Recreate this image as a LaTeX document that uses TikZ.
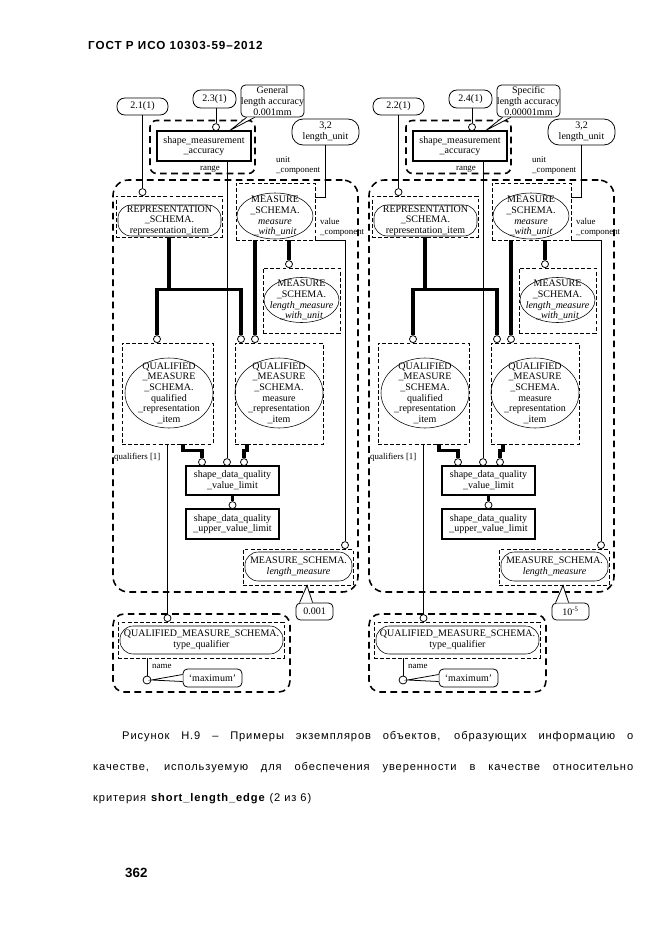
\documentclass[tikz,border=0pt]{standalone}
\usepackage{fontspec}
\setmainfont{Liberation Serif}
\newfontfamily\arialf{Liberation Sans}
\usetikzlibrary{calc,shapes.geometric}

\begin{document}
\begin{tikzpicture}[
    x=0.9pt, y=-0.9pt,
    font=\fontsize{9}{9.6}\selectfont,
    sz/.style 2 args={minimum width=#1*0.9pt, minimum height=#2*0.9pt},
    refbox/.style={draw, rounded corners=7pt, inner sep=0pt, line width=0.7pt, align=center},
    note/.style={draw, rounded corners=4pt, inner sep=0pt, line width=0.7pt, align=center},
    sbox/.style={draw, line width=1.2pt, inner sep=0pt, align=center},
    dbox/.style={draw, dash pattern=on 3.5pt off 2pt, line width=0.8pt, inner sep=0pt},
    outer/.style={draw, dash pattern=on 6pt off 4pt, line width=1.4pt, inner sep=0pt, rounded corners=14pt},
    ent/.style={draw, ellipse, line width=0.5pt, inner sep=0pt},
    stad/.style={draw, rounded corners=12pt, line width=0.5pt, inner sep=0pt, align=center},
    txt/.style={inner sep=0pt, align=center},
    oc/.style={circle, draw, fill=white, inner sep=0pt, minimum size=6.3pt, line width=0.7pt},
    rel/.style={line width=0.7pt},
    sub/.style={line width=3.2pt},
    lbl/.style={font=\fontsize{8}{9}\selectfont, inner sep=0pt, align=left},
    captxt/.style={font=\arialf\fontsize{10}{12}\selectfont\addfontfeature{LetterSpace=8}, inner sep=0pt},
    capj/.style={text width=#1, align=justify, execute at begin node={\parfillskip=0pt}}
  ]
  \fill[white] (0,0) rectangle (661,935);

  \node[anchor=base west, font=\arialf\bfseries\fontsize{10.5}{13}\selectfont\addfontfeature{LetterSpace=8}, inner sep=0pt] (hdr) at (88,49) {ГОСТ Р ИСО 10303-59–2012};

  \foreach \s/\dx/\ra/\rb/\acc/\val in {
      L/0/2.1(1)/2.3(1)/{General\\length accuracy\\0.001mm}/{0.001},
      R/256/2.2(1)/2.4(1)/{Specific\\length accuracy\\0.00001mm}/{10\textsuperscript{-5}}}
  {
  \begin{scope}[shift={(\dx,0)}]
    \node[outer, sz={245}{412}] (\s-frm) at (235.5,386) {};
    \node[outer, rounded corners=6pt, sz={105}{53}] (\s-rng) at (202.5,147) {};
    \node[outer, rounded corners=10pt, sz={177}{78}] (\s-tqf) at (201.5,653) {};

    \node[refbox, sz={51}{17}] (\s-ra) at (142.5,106.5) {\ra};
    \node[refbox, sz={43}{18}] (\s-rb) at (214.5,99) {\rb};
    \node[note, sz={59}{32}] (\s-acc) at (272.5,101) {\acc};
    \node[refbox, rounded corners=10pt, sz={67}{26}] (\s-lu) at (325.5,132) {3,2\\length\_unit};
    \node[sbox, sz={94}{30}] (\s-sma) at (204,146) {shape\_measurement\\\_accuracy};

    \node[dbox, sz={106}{41}] (\s-rep) at (169,216.5) {};
    \node[stad, sz={103}{31}] (\s-repx) at (169.5,220.5) {REPRESENTATION\\\_SCHEMA.\\representation\_item};
    \node[dbox, sz={79}{57}] (\s-mwu) at (275.5,211.5) {};
    \node[ent, sz={76}{46}] (\s-mwux) at (275,216) {};
    \node[txt] (\s-mwut) at (\s-mwux) {MEASURE\\\_SCHEMA.\\\textit{measure}\\\textit{\_with\_unit}};
    \node[dbox, sz={77}{65}] (\s-lmw) at (301.5,300.5) {};
    \node[ent, sz={75}{45}] (\s-lmwx) at (301.5,300) {};
    \node[txt] (\s-lmwt) at (\s-lmwx) {MEASURE\\\_SCHEMA.\\\textit{length\_measure}\\\textit{\_with\_unit}};

    \node[dbox, sz={91}{101}] (\s-qri) at (167.5,393.5) {};
    \node[ent, sz={88}{70}] (\s-qrix) at (169,393) {};
    \node[txt] (\s-qrit) at (\s-qrix) {QUALIFIED\\\_MEASURE\\\_SCHEMA.\\qualified\\\_representation\\\_item};
    \node[dbox, sz={88}{101}] (\s-mri) at (279,393.5) {};
    \node[ent, sz={88}{70}] (\s-mrix) at (279,393) {};
    \node[txt] (\s-mrit) at (\s-mrix) {QUALIFIED\\\_MEASURE\\\_SCHEMA.\\measure\\\_representation\\\_item};

    \node[sbox, sz={93}{29}] (\s-vl) at (232.5,480.5) {shape\_data\_quality\\\_value\_limit};
    \node[sbox, sz={93}{30}] (\s-uvl) at (232.5,524) {shape\_data\_quality\\\_upper\_value\_limit};

    \node[dbox, sz={110}{36}] (\s-lm) at (298,567) {};
    \node[stad, sz={107}{29}] (\s-lmx) at (298.5,566.5) {MEASURE\_SCHEMA.\\\textit{length\_measure}};
    \node[note, sz={37}{17}] (\s-val) at (314.5,611.5) {\val};

    \node[dbox, sz={166}{36}] (\s-tq) at (201,640) {};
    \node[stad, sz={163}{28}] (\s-tqx) at (201.5,640) {QUALIFIED\_MEASURE\_SCHEMA.\\type\_qualifier};
    \node[oc, minimum size=7.2pt] (\s-nm) at (147,680) {};
    \node[note, sz={59}{18}] (\s-max) at (212.5,678) {`maximum'};

    \node[lbl] (\s-lr) at (210,169) {range};
    \node[lbl, anchor=west] (\s-luc) at (276,166) {unit\\\_component};
    \node[lbl, anchor=west] (\s-lvc) at (320,227.5) {value\\\_component};
    \node[lbl, anchor=west] (\s-lq) at (114,457) {qualifiers [1]};
    \node[lbl, anchor=west] (\s-ln) at (152,666) {name};

    \foreach \c/\cx/\cy in {ra/142.5/196, rb/216/131, q1/157/343, m1/241/343, m2/255/343,
        lw/289/268, v1/202/466, v2/227/466, v3/244/466, uv/232.5/509, lm/345/549, tq/167.5/622}
      \node[oc, anchor=south] (\s-c\c) at (\cx,\cy) {};

    \draw[rel] (\s-ra) -- (\s-cra);
    \draw[rel] (\s-rb.south -| \s-crb) -- (\s-crb);
    \draw[rel] (\s-sma.south -| \s-cv2) -- (\s-cv2);
    \draw[rel] (\s-lu) |- ([yshift=-13.5pt]\s-mwu.north east);
    \draw[rel] (\s-mwu.south east) -| (\s-clm);
    \draw[rel] (\s-qri.south) -- (\s-ctq);
    \draw[rel] (\s-tq.south -| \s-nm) -- (\s-nm);
    \draw[sub] (\s-rep.south) -- ++(0,52) -| (\s-cq1);
    \draw[sub] (\s-rep.south) -- ++(0,52) -| (\s-cm1);
    \draw[sub] (\s-mwu.south -| \s-cm2) -- (\s-cm2);
    \draw[sub] (\s-mwu.south -| \s-clw) -- (\s-clw);
    \draw[sub] ($(\s-qri.south)+(15.5,0)$) -- ++(0,6) -| (\s-cv1);
    \draw[sub] ($(\s-mri.south)+(-32,0)$) -- ++(0,6) -| (\s-cv3);
    \draw[sub] (\s-vl) -- (\s-cuv);

    \draw[rel, fill=white] ($(\s-acc.south west)+(6,0)$) -- ($(\s-sma.north)+(26,0)$) -- ($(\s-acc.south west)+(14,0)$);
    \draw[rel, fill=white] ($(\s-val.north west)+(4,0)$) -- ($(\s-lm.south)+(9,0)$) -- ($(\s-val.north west)+(17,0)$);
    \draw[rel, fill=white] ($(\s-max.west)+(0,-3.5)$) -- (\s-nm.east) -- ($(\s-max.west)+(0,3.5)$);
  \end{scope}
  }

  \node[captxt, capj=459.9pt, anchor=base west] (cap1) at (122,739) {Рисунок Н.9 – Примеры экземпляров объектов, образующих информацию о};
  \node[captxt, capj=486pt, anchor=base west] (cap2) at (93,770) {качестве, используемую для обеспечения уверенности в качестве относительно};
  \node[captxt, anchor=base west] (cap3) at (93,801) {критерия \textbf{short\_length\_edge} (2 из 6)};

  \node[anchor=base west, font=\arialf\bfseries\fontsize{12}{14}\selectfont, inner sep=0pt] (pgno) at (125,877) {362};
\end{tikzpicture}
\end{document}
